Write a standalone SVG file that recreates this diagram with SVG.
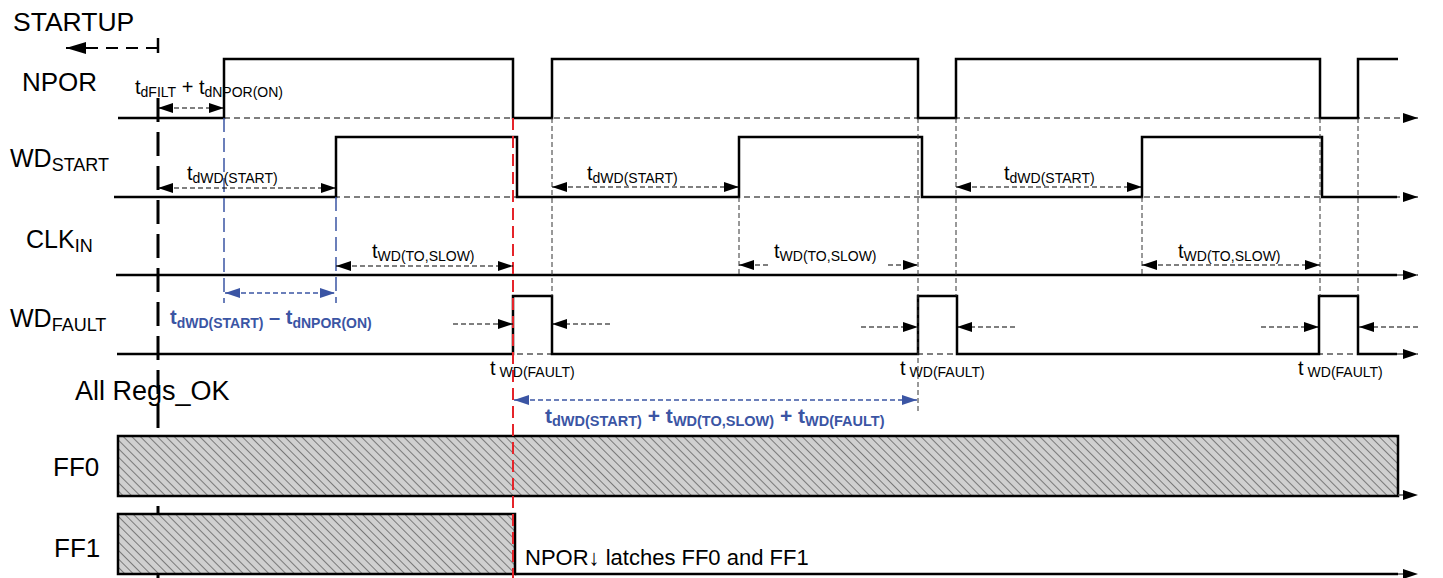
<svg xmlns="http://www.w3.org/2000/svg" width="1443" height="578" viewBox="0 0 1443 578">
<style>
text{font-family:"Liberation Sans",Arial,sans-serif;fill:#000}
.lbl{font-size:26px}
.wd{font-size:25px}
.sub{font-size:18px}
.t{font-size:20px}
.ts{font-size:14px}
.blue{fill:#3b55a4;font-weight:bold}
.sig{fill:none;stroke:#000;stroke-width:2.5;stroke-linejoin:miter}
.base{fill:none;stroke:#555;stroke-width:1.3;stroke-dasharray:6 4}
.vd{fill:none;stroke:#333;stroke-width:1;stroke-dasharray:5 3}
.dim{fill:none;stroke:#000;stroke-width:1.2;stroke-dasharray:5 3}
.bdim{fill:none;stroke:#3b55a4;stroke-width:1.3;stroke-dasharray:5 3}
.bv{fill:none;stroke:#3b55a4;stroke-width:1.5;stroke-dasharray:14 6}
</style>
<defs>
<marker id="ah" viewBox="0 0 15 10" refX="15" refY="5" markerWidth="15" markerHeight="10" markerUnits="userSpaceOnUse" orient="auto-start-reverse"><path d="M0,0 L15,5 L0,10 z" fill="#000"/></marker>
<marker id="ahb" viewBox="0 0 15 10" refX="15" refY="5" markerWidth="15" markerHeight="10" markerUnits="userSpaceOnUse" orient="auto-start-reverse"><path d="M0,0 L15,5 L0,10 z" fill="#3b55a4"/></marker>
<marker id="ahs" viewBox="0 0 20 12" refX="20" refY="6" markerWidth="20" markerHeight="12" markerUnits="userSpaceOnUse" orient="auto"><path d="M0,0 L20,6 L0,12 z" fill="#000"/></marker>
<pattern id="hatch" patternUnits="userSpaceOnUse" width="6" height="6" patternTransform="rotate(-45)"><rect width="6" height="6" fill="#d0d0d0"/><line x1="0" y1="0" x2="0" y2="6" stroke="#222" stroke-width="1"/></pattern>
</defs>

<g id="startup">
<text class="lbl" x="13" y="31" style="font-size:26.5px">STARTUP</text>
<line x1="158" y1="38" x2="158" y2="53" stroke="#000" stroke-width="2.5"/>
<line x1="158" y1="48" x2="66" y2="48" stroke="#000" stroke-width="2" stroke-dasharray="12 8" marker-end="url(#ahs)"/>
<line x1="158" y1="98" x2="158" y2="578" stroke="#000" stroke-width="3" stroke-dasharray="24 10"/>
</g>

<g id="npor">
<text class="lbl" x="22" y="91">NPOR</text>
<polyline class="base" points="224,118 1418,118" marker-end="url(#ah)"/>
<polyline class="sig" points="118,118 224,118 224,59 513,59 513,118 552,118 552,59 918,59 918,118 956,118 956,59 1320,59 1320,118 1358,118 1358,59 1398,59"/>
</g>

<g id="wdstart">
<text class="wd" x="10" y="167">WD<tspan class="sub" dy="4">START</tspan></text>
<polyline class="base" points="114,197 1418,197" marker-end="url(#ah)"/>
<polyline class="sig" points="114,197 336,197 336,137 517,137 517,197 739,197 739,137 922,137 922,197 1142,197 1142,137 1322,137 1322,197 1397,197"/>
</g>

<g id="clkin">
<text class="wd" x="26" y="248">CLK<tspan class="sub" dy="4">IN</tspan></text>
<polyline class="base" points="1397,275 1418,275" marker-end="url(#ah)"/>
<polyline class="sig" points="116,275 1397,275"/>
</g>

<g id="wdfault">
<text class="wd" x="10" y="327">WD<tspan class="sub" dy="4">FAULT</tspan></text>
<polyline class="base" points="117,354 1418,354" marker-end="url(#ah)"/>
<polyline class="sig" points="117,354 513,354 513,296 552,296 552,354 918,354 918,296 957,296 957,354 1319,354 1319,296 1358,296 1358,354 1397,354"/>
</g>

<g id="allregs">
<text x="75" y="400" style="font-size:27px">All Regs_OK</text>
</g>

<g id="ff0">
<text class="lbl" x="53" y="476">FF0</text>
<rect x="118" y="436" width="1280" height="60" fill="url(#hatch)" stroke="#000" stroke-width="2.5"/>
<polyline class="base" points="1398,495 1418,495" marker-end="url(#ah)"/>
</g>

<g id="ff1">
<text class="lbl" x="54" y="557">FF1</text>
<rect x="118" y="514" width="397" height="60" fill="url(#hatch)" stroke="#000" stroke-width="2.5"/>
<polyline class="sig" points="515,574 1398,574"/>
<polyline class="base" points="1398,574 1418,574" marker-end="url(#ah)"/>
<text x="525" y="565" style="font-size:22px">NPOR↓ latches FF0 and FF1</text>
</g>

<g id="connectors">
<line class="vd" x1="552" y1="118" x2="552" y2="296"/>
<line class="vd" x1="739" y1="197" x2="739" y2="275"/>
<line class="vd" x1="918" y1="118" x2="918" y2="413"/>
<line class="vd" x1="956" y1="118" x2="956" y2="296"/>
<line class="vd" x1="1142" y1="197" x2="1142" y2="275"/>
<line class="vd" x1="1320" y1="118" x2="1320" y2="296"/>
<line class="vd" x1="1358" y1="118" x2="1358" y2="296"/>
<line class="bv" x1="224" y1="118" x2="224" y2="303"/>
<line class="bv" x1="336" y1="197" x2="336" y2="303"/>
<line x1="513" y1="118" x2="513" y2="578" stroke="#e5242a" stroke-width="2" stroke-dasharray="12 6"/>

<line class="dim" x1="158" y1="108" x2="224" y2="108" marker-start="url(#ah)" marker-end="url(#ah)"/>
<line class="dim" x1="158" y1="188" x2="336" y2="188" marker-start="url(#ah)" marker-end="url(#ah)"/>
<line class="dim" x1="552" y1="187" x2="739" y2="187" marker-start="url(#ah)" marker-end="url(#ah)"/>
<line class="dim" x1="956" y1="187" x2="1142" y2="187" marker-start="url(#ah)" marker-end="url(#ah)"/>
<line class="dim" x1="336" y1="266" x2="513" y2="266" marker-start="url(#ah)" marker-end="url(#ah)"/>
<line class="dim" x1="739" y1="265" x2="768" y2="265" marker-start="url(#ah)"/>
<line class="dim" x1="888" y1="265" x2="918" y2="265" marker-end="url(#ah)"/>
<line class="dim" x1="1142" y1="265" x2="1320" y2="265" marker-start="url(#ah)" marker-end="url(#ah)"/>
<line class="dim" x1="453" y1="324" x2="513" y2="324" marker-end="url(#ah)"/>
<line class="dim" x1="610" y1="324" x2="552" y2="324" marker-end="url(#ah)"/>
<line class="dim" x1="861" y1="327" x2="918" y2="327" marker-end="url(#ah)"/>
<line class="dim" x1="1015" y1="327" x2="957" y2="327" marker-end="url(#ah)"/>
<line class="dim" x1="1261" y1="327" x2="1319" y2="327" marker-end="url(#ah)"/>
<line class="dim" x1="1418" y1="327" x2="1359" y2="327" marker-end="url(#ah)"/>
<line class="bdim" x1="225" y1="293" x2="335" y2="293" marker-start="url(#ahb)" marker-end="url(#ahb)"/>
<line class="bdim" x1="514" y1="400" x2="917" y2="400" marker-start="url(#ahb)" marker-end="url(#ahb)"/>

<text class="t" x="135" y="94">t<tspan class="ts" dy="3">dFILT</tspan><tspan dy="-3"> + t</tspan><tspan class="ts" dy="3">dNPOR(ON)</tspan></text>
<text class="t" x="187" y="180">t<tspan class="ts" dy="3">dWD(START)</tspan></text>
<text class="t" x="587" y="180">t<tspan class="ts" dy="3">dWD(START)</tspan></text>
<text class="t" x="1004" y="180">t<tspan class="ts" dy="3">dWD(START)</tspan></text>
<text class="t" x="372" y="258">t<tspan class="ts" dy="3">WD(TO,SLOW)</tspan></text>
<text class="t" x="774" y="258">t<tspan class="ts" dy="3">WD(TO,SLOW)</tspan></text>
<text class="t" x="1178" y="258">t<tspan class="ts" dy="3">WD(TO,SLOW)</tspan></text>
<text class="t" x="490" y="375">t<tspan class="ts" dx="4" dy="2">WD(FAULT)</tspan></text>
<text class="t" x="900" y="375">t<tspan class="ts" dx="4" dy="2">WD(FAULT)</tspan></text>
<text class="t" x="1298" y="375">t<tspan class="ts" dx="4" dy="2">WD(FAULT)</tspan></text>
<text class="t blue" x="170" y="324">t<tspan class="ts" dy="4">dWD(START)</tspan><tspan dy="-4"> – t</tspan><tspan class="ts" dy="4">dNPOR(ON)</tspan></text>
<text class="t blue" x="545" y="423" style="font-size:21px">t<tspan class="ts" style="font-size:14.5px" dy="3">dWD(START)</tspan><tspan dy="-3"> + t</tspan><tspan class="ts" style="font-size:14.5px" dy="3">WD(TO,SLOW)</tspan><tspan dy="-3"> + t</tspan><tspan class="ts" style="font-size:14.5px" dy="3">WD(FAULT)</tspan></text>
</g>
</svg>
